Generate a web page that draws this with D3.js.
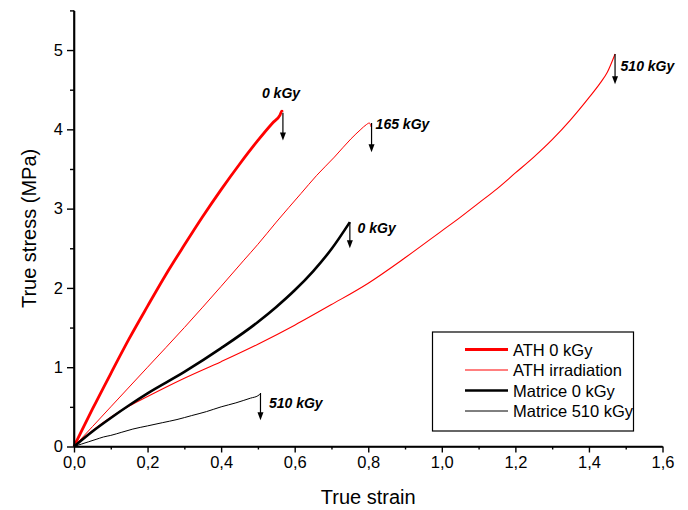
<!DOCTYPE html>
<html><head><meta charset="utf-8">
<script src="https://cdn.jsdelivr.net/npm/d3@7"></script>
<style>body{margin:0;background:#fff}svg{display:block;font-family:Arial,"Liberation Sans",sans-serif}</style>
</head><body><svg id="c" width="688" height="510"></svg>
<script>
// ---- data ----
const xTicks = [0, 0.2, 0.4, 0.6, 0.8, 1.0, 1.2, 1.4, 1.6];
const xTickLabels = ["0,0", "0,2", "0,4", "0,6", "0,8", "1,0", "1,2", "1,4", "1,6"];
const xMinorTicks = [0.1, 0.3, 0.5, 0.7, 0.9, 1.1, 1.3, 1.5];
const yTicks = [0, 1, 2, 3, 4, 5];
const yTickLabels = ["0", "1", "2", "3", "4", "5"];
const yMinorTicks = [0.5, 1.5, 2.5, 3.5, 4.5, 5.5];

const athStrain0 = [0, 0.02, 0.05, 0.1, 0.15, 0.2, 0.25, 0.3, 0.35, 0.4, 0.45, 0.5, 0.54, 0.56, 0.565, 0.567];
const athStress0 = [0, 0.19, 0.47, 0.92, 1.36, 1.77, 2.17, 2.54, 2.90, 3.24, 3.56, 3.86, 4.08, 4.18, 4.23, 4.22];

const athStrain165 = [0, 0.05, 0.1, 0.2, 0.3, 0.4, 0.462, 0.5, 0.55, 0.617, 0.66, 0.708, 0.753, 0.78, 0.795, 0.803, 0.808];
const athStress165 = [0, 0.25, 0.5, 1.0, 1.5, 2.02, 2.35, 2.55, 2.83, 3.19, 3.42, 3.65, 3.88, 4.0, 4.06, 4.08, 4.03];

const athStrain510 = [0, 0.05, 0.1, 0.15, 0.2, 0.3, 0.4, 0.5, 0.6, 0.7, 0.8, 0.9, 1.0, 1.05, 1.1, 1.15, 1.2, 1.25, 1.3, 1.35, 1.4, 1.43, 1.45, 1.471];
const athStress510 = [0, 0.2, 0.37, 0.51, 0.63, 0.86, 1.07, 1.29, 1.53, 1.79, 2.06, 2.38, 2.72, 2.89, 3.07, 3.25, 3.45, 3.65, 3.87, 4.12, 4.40, 4.58, 4.72, 4.95];

const matStrain0 = [0, 0.05, 0.1, 0.15, 0.2, 0.3, 0.4, 0.5, 0.55, 0.6, 0.65, 0.7, 0.75];
const matStress0 = [0, 0.19, 0.36, 0.52, 0.67, 0.94, 1.24, 1.57, 1.76, 1.97, 2.21, 2.49, 2.83];

const matStrain510 = [0, 0.02, 0.04, 0.06, 0.08, 0.1, 0.13, 0.16, 0.2, 0.24, 0.28, 0.32, 0.36, 0.4, 0.44, 0.48, 0.5, 0.508];
const matStress510 = [0, 0.03, 0.06, 0.09, 0.12, 0.14, 0.18, 0.22, 0.26, 0.30, 0.34, 0.39, 0.44, 0.50, 0.55, 0.61, 0.64, 0.67];

const legendNames = ["ATH 0 kGy", "ATH irradiation", "Matrice 0 kGy", "Matrice 510 kGy"];

const annLabels = ["0 kGy", "165 kGy", "0 kGy", "510 kGy", "510 kGy"];
const annArrowX = [0.568, 0.809, 0.750, 1.471, 0.507];
const annArrowY0 = [4.21, 4.08, 2.83, 4.95, 0.675];
const annArrowY1 = [3.86, 3.71, 2.50, 4.57, 0.33];
const annLabelX = [0.511, 0.820, 0.771, 1.486, 0.530];
const annLabelY = [4.39, 4.00, 2.69, 4.73, 0.485];

// ---- chart ----
const svg = d3.select("#c");
const x = d3.scaleLinear().domain([0, 1.6]).range([74, 662.5]);
const y = d3.scaleLinear().domain([0, 5.5]).range([446.5, 10.4]);

const series = [
  {sx: athStrain0, sy: athStress0, color: "#ff0000", w: 2.8},
  {sx: athStrain165, sy: athStress165, color: "#ff0000", w: 1},
  {sx: athStrain510, sy: athStress510, color: "#ff0000", w: 1.1},
  {sx: matStrain0, sy: matStress0, color: "#000000", w: 2.6},
  {sx: matStrain510, sy: matStress510, color: "#000000", w: 1}
];
const line = d3.line().x(d => x(d[0])).y(d => y(d[1])).curve(d3.curveMonotoneX);
series.forEach(s => {
  svg.append("path").datum(s.sx.map((v, i) => [v, s.sy[i]]))
    .attr("d", line).attr("fill", "none").attr("stroke", s.color)
    .attr("stroke-width", s.w).attr("stroke-linejoin", "round");
});

// axes
const xAxis = d3.axisBottom(x).tickValues(xTicks).tickFormat((d, i) => xTickLabels[i]).tickSizeInner(6).tickSizeOuter(0).tickPadding(4);
const gx = svg.append("g").attr("transform", `translate(0,${y(0)})`).call(xAxis);
const gxm = svg.append("g").attr("transform", `translate(0,${y(0)})`)
  .call(d3.axisBottom(x).tickValues(xMinorTicks).tickFormat("").tickSizeInner(3).tickSizeOuter(0));
const yAxis = d3.axisLeft(y).tickValues(yTicks).tickFormat((d, i) => yTickLabels[i]).tickSizeInner(7).tickSizeOuter(0).tickPadding(4);
const gy = svg.append("g").attr("transform", `translate(${x(0)},0)`).call(yAxis);
const gym = svg.append("g").attr("transform", `translate(${x(0)},0)`)
  .call(d3.axisLeft(y).tickValues(yMinorTicks).tickFormat("").tickSizeInner(4).tickSizeOuter(0));
[gx, gxm, gy, gym].forEach(g => {
  g.selectAll(".domain").attr("stroke", "#000").attr("stroke-width", 1.6);
  g.selectAll(".tick line").attr("stroke", "#000").attr("stroke-width", 1.4);
  g.selectAll("text").attr("font-family", "Arial, 'Liberation Sans', sans-serif").attr("font-size", 16.5).attr("fill", "#000");
});
gy.select(".domain").attr("d", `M0,${y(5.5)}V${y(0)}`);
gx.select(".domain").attr("d", `M${x(0)},0H${x(1.6)}`);

// axis titles
svg.append("text").attr("x", (x(0) + x(1.6)) / 2).attr("y", 504).attr("text-anchor", "middle")
  .attr("font-size", 20).text("True strain");
svg.append("text").attr("transform", `translate(36,${(y(0) + y(5.5)) / 2}) rotate(-90)`)
  .attr("text-anchor", "middle").attr("font-size", 20).text("True stress (MPa)");

// annotations
annLabels.forEach((lab, i) => {
  const ax = x(annArrowX[i]), a0 = y(annArrowY0[i]), a1 = y(annArrowY1[i]);
  svg.append("line").attr("x1", ax).attr("x2", ax).attr("y1", a0).attr("y2", a1 - 6)
    .attr("stroke", "#000").attr("stroke-width", 1.2);
  svg.append("path").attr("d", `M${ax - 3},${a1 - 8}L${ax + 3},${a1 - 8}L${ax},${a1}Z`).attr("fill", "#000");
  svg.append("text").attr("x", x(annLabelX[i])).attr("y", y(annLabelY[i]))
    .attr("font-size", 14).attr("font-weight", "bold").attr("font-style", "italic").text(lab);
});

// legend
const lg = svg.append("g");
lg.append("rect").attr("x", 432.5).attr("y", 332).attr("width", 201).attr("height", 99)
  .attr("fill", "#fff").attr("stroke", "#000").attr("stroke-width", 1.2);
const legStyles = [{c: "#ff0000", w: 2.8}, {c: "#ff0000", w: 1.2}, {c: "#000", w: 2.6}, {c: "#000", w: 1}];
legendNames.forEach((n, i) => {
  const cy = 349.5 + i * 20.5;
  lg.append("line").attr("x1", 465).attr("x2", 508).attr("y1", cy).attr("y2", cy)
    .attr("stroke", legStyles[i].c).attr("stroke-width", legStyles[i].w);
  lg.append("text").attr("x", 513).attr("y", cy + 6).attr("font-size", 16.5).text(n);
});
</script></body></html>
